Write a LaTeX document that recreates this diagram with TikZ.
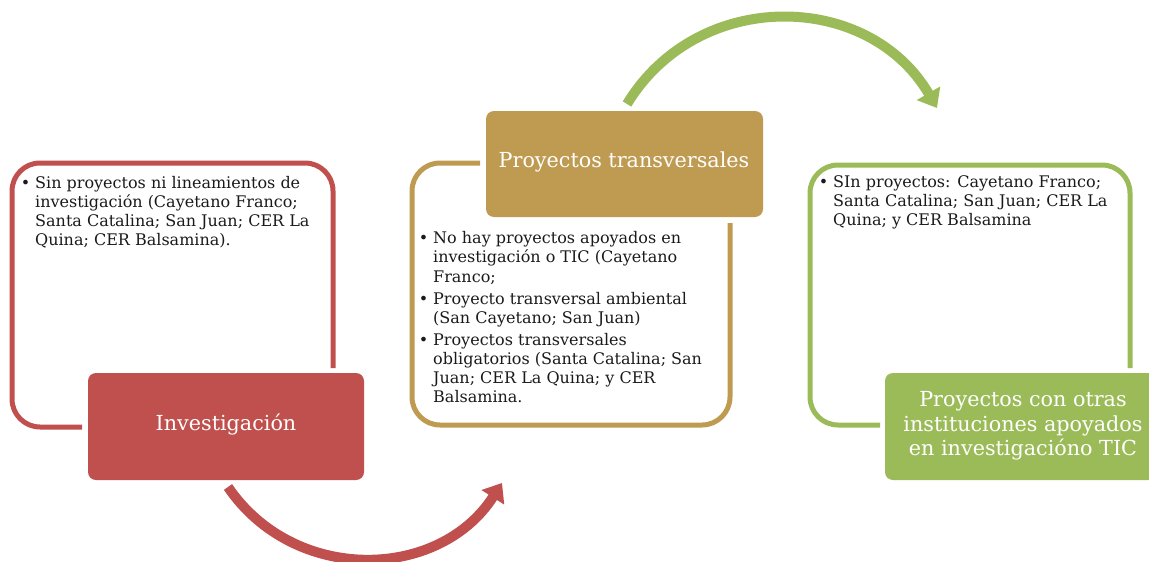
\documentclass[tikz,border=0pt]{standalone}
\usepackage{fontspec}
\setmainfont{DejaVu Serif}
\usetikzlibrary{arrows.meta}
\definecolor{cred}{HTML}{C0504D}
\definecolor{cgold}{HTML}{BF9B52}
\definecolor{cgreen}{HTML}{9BBB59}
\definecolor{ctext}{HTML}{1A1A1A}
\begin{document}
\begin{tikzpicture}[x=1pt,y=-1pt,
  outl/.style={line width=5pt, rounded corners=28pt},
  titlebox/.style={rounded corners=8pt},
  titletext/.style={text=white, font=\fontsize{20.7}{24.5}\selectfont, align=center, inner sep=0pt},
  body/.style={text=ctext, font=\fontsize{16}{19}\selectfont, align=left, inner sep=0pt, anchor=base west},
  bigarrow/.style={line width=10pt, -{Triangle[width=26pt,length=17pt]}}]
\useasboundingbox (0,0) rectangle (1149,562);

% ---- red group
\draw[outl, cred] (333,368) -- (333,163) -- (12,163) -- (12,427) -- (82,427);
\fill[titlebox, cred] (88,373) rectangle (364,480);
\node[titletext] (inv) at (226,425) {Investigación};
\node[body] (t1) at (35,245) {\llap{\textbullet\hspace{5pt}}Sin proyectos ni lineamientos de\\investigación (Cayetano Franco;\\Santa Catalina; San Juan; CER La\\Quina; CER Balsamina).};

% ---- gold group
\draw[outl, cgold] (480,163) -- (412,163) -- (412,425) -- (730,425) -- (730,223);
\fill[titlebox, cgold] (486,111) rectangle (763,217);
\node[titletext] (pt) at (624,162) {Proyectos transversales};
\node[body, font=\fontsize{16}{19.5}\selectfont] (g1) at (433,282) {\llap{\textbullet\hspace{5pt}}No hay proyectos apoyados en\\investigación o TIC (Cayetano\\Franco;};
\node[body] (g2) at (433,323) {\llap{\textbullet\hspace{5pt}}Proyecto transversal ambiental\\(San Cayetano; San Juan)};
\node[body, font=\fontsize{16}{18.7}\selectfont] (g3) at (433,402) {\llap{\textbullet\hspace{5pt}}Proyectos transversales\\obligatorios (Santa Catalina; San\\Juan; CER La Quina; y CER\\Balsamina.};

% ---- green group
\draw[outl, cgreen] (1130,368) -- (1130,165) -- (810,165) -- (810,425) -- (880,425);
\fill[titlebox, cgreen] (885,373) rectangle (1156,480);
\node[titletext] (pc) at (1023,426) {Proyectos con otras\\instituciones apoyados\\en investigacióno TIC};
\node[body] (r1) at (833,225) {\llap{\textbullet\hspace{5pt}}SIn proyectos: Cayetano Franco;\\Santa Catalina; San Juan; CER La\\Quina; y CER Balsamina};

% ---- arrows
\coordinate (ra) at (228,487);
\coordinate (rb) at (502,483);
\draw[bigarrow, cred] (ra) .. controls (294,584) and (439,581) .. (rb);
\coordinate (ga) at (627,104);
\coordinate (gb) at (937,108);
\draw[bigarrow, cgreen] (ga) .. controls (698,-13) and (869,-9) .. (gb);
\end{tikzpicture}
\end{document}
